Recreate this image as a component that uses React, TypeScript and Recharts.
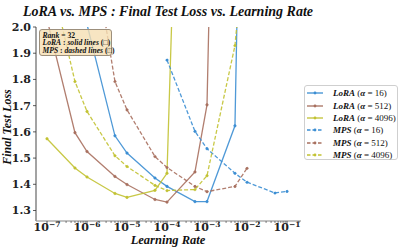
import React from "react";
import { LineChart, Line, XAxis, YAxis, Legend, Label } from "recharts";

const learningRates = [1e-7, 5e-7, 1e-6, 5e-6, 1e-5, 5e-5, 1e-4, 5e-4, 1e-3, 5e-3, 1e-2, 5e-2, 1e-1];

// solid lines (LoRA)
const loraA16 = [null, null, 2.01, 1.585, 1.519, 1.424, 1.392, 1.334, 1.334, 1.623, 4.05, null, null];
const loraA512 = [2.03, 1.597, 1.525, 1.43, 1.399, 1.342, 1.332, 1.447, 1.703, 6.5, null, null, null];
const loraA4096 = [1.574, 1.462, 1.428, 1.365, 1.35, 1.377, 1.442, 4.9, null, null, null, null, null];

// dashed lines (MPS)
const mpsA16 = [null, null, null, null, null, null, 1.874, 1.602, 1.536, 1.442, 1.408, 1.367, 1.373];
const mpsA512 = [null, null, 2.44, 1.792, 1.684, 1.506, 1.464, 1.392, 1.372, 1.392, 1.461, null, null];
const mpsA4096 = [2.25, 1.792, 1.678, 1.509, 1.468, 1.396, 1.376, 1.38, 1.433, 1.929, 2.43, null, null];

const yTicks = [1.3, 1.4, 1.5, 1.6, 1.7, 1.8, 1.9, 2.0];
const xMajorTicks = [1e-7, 1e-6, 1e-5, 1e-4, 1e-3, 1e-2, 1e-1];

const BLUE = "#3c8ed3";
const BROWN = "#a8705f";
const OLIVE = "#c2c232";

const SERIES = [
  { key: "loraA16", name: "LoRA", alpha: "16", color: BLUE, dashed: false },
  { key: "loraA512", name: "LoRA", alpha: "512", color: BROWN, dashed: false },
  { key: "loraA4096", name: "LoRA", alpha: "4096", color: OLIVE, dashed: false },
  { key: "mpsA16", name: "MPS", alpha: "16", color: BLUE, dashed: true },
  { key: "mpsA512", name: "MPS", alpha: "512", color: BROWN, dashed: true },
  { key: "mpsA4096", name: "MPS", alpha: "4096", color: OLIVE, dashed: true },
];

const data = learningRates.map((lr, i) => ({
  lr,
  loraA16: loraA16[i],
  loraA512: loraA512[i],
  loraA4096: loraA4096[i],
  mpsA16: mpsA16[i],
  mpsA512: mpsA512[i],
  mpsA4096: mpsA4096[i],
}));

// major + minor log ticks
const xTicks: number[] = [];
xMajorTicks.forEach((m) => {
  for (let k = 1; k <= 9; k++) {
    const v = m * k;
    if (v <= 0.2) xTicks.push(v);
  }
});

const SERIF = "'Liberation Serif', 'Times New Roman', serif";
const TICK_FONT = "'DejaVu Serif', serif";

function XTick({ x, y, payload }: any) {
  const v = payload.value;
  const lg = Math.log10(v);
  const e = Math.round(lg);
  const major = Math.abs(lg - e) < 1e-6;
  return (
    <g>
      <line x1={x} x2={x} y1={y} y2={y + (major ? 3.5 : 2)} stroke="#333" strokeWidth={major ? 0.8 : 0.6} />
      {major && (
        <text x={x} y={y + 10} textAnchor="middle" fontFamily={TICK_FONT} fontWeight="bold" fontSize={11} fill="#222">
          10
          <tspan dy={-4} fontSize={7.5}>{"\u2212" + -e}</tspan>
        </text>
      )}
    </g>
  );
}

function LegendBox() {
  return (
    <div
      style={{
        width: 94,
        height: 75,
        boxSizing: "border-box",
        border: "1px solid #cfcfcf",
        borderRadius: 3,
        background: "rgba(255,255,255,0.85)",
        paddingTop: 1,
      }}
    >
      {SERIES.map((s) => (
        <div key={s.key} style={{ display: "flex", alignItems: "center", height: 12.4 }}>
          <svg width={28} height={12} style={{ flex: "none" }}>
            <line
              x1={2}
              x2={18}
              y1={6}
              y2={6}
              stroke={s.color}
              strokeWidth={1.3}
              strokeDasharray={s.dashed ? "3.5 2" : undefined}
            />
            <circle cx={10} cy={6} r={1.4} fill={s.color} />
          </svg>
          <span style={{ fontFamily: SERIF, fontSize: 9, color: "#111", whiteSpace: "nowrap" }}>
            <b><i>{s.name}</i></b> (<b><i>α</i></b>{" = "}{s.alpha})
          </span>
        </div>
      ))}
    </div>
  );
}

export default function App() {
  return (
    <div style={{ position: "relative", width: 399, height: 250, background: "#fff" }}>
      <style>{"body{margin:0}"}</style>
      <LineChart width={399} height={250} data={data} margin={{ top: 27, right: 98, bottom: 0, left: 0 }}>
        <XAxis
          dataKey="lr"
          type="number"
          scale="log"
          domain={[Math.pow(10, -7.275), Math.pow(10, -0.65)]}
          allowDataOverflow
          ticks={xTicks}
          interval={0}
          tick={<XTick />}
          tickSize={0}
          tickMargin={0}
          tickLine={false}
          height={29}
          axisLine={{ stroke: "#888", strokeWidth: 1.2 }}
        >
          <Label
            content={() => (
              <text x={168} y={244} textAnchor="middle" fontFamily={SERIF} fontStyle="italic" fontWeight="bold" fontSize={12.5} fill="#111">
                Learning Rate
              </text>
            )}
          />
        </XAxis>
        <YAxis
          type="number"
          domain={[1.26, 2.0]}
          allowDataOverflow
          ticks={yTicks}
          tickFormatter={(v: number) => v.toFixed(1)}
          tick={{ fontFamily: TICK_FONT, fontWeight: "bold", fontSize: 11, fill: "#222" }}
          tickSize={3}
          tickMargin={2}
          tickLine={{ stroke: "#333", strokeWidth: 0.8 }}
          width={36}
          axisLine={{ stroke: "#999", strokeWidth: 1.8 }}
        >
          <Label
            content={() => (
              <text
                x={11}
                y={127}
                transform="rotate(-90 11 127)"
                textAnchor="middle"
                fontFamily={SERIF}
                fontStyle="italic"
                fontWeight="bold"
                fontSize={12}
                fill="#111"
              >
                Final Test Loss
              </text>
            )}
          />
        </YAxis>
        <Legend
          layout="vertical"
          align="center"
          verticalAlign="middle"
          content={() => <LegendBox />}
          wrapperStyle={{ position: "absolute", left: 304, top: 85, width: 94, height: 75 }}
        />
        {SERIES.map((s) => (
          <Line
            key={s.key}
            dataKey={s.key}
            type="linear"
            stroke={s.color}
            strokeWidth={1.3}
            strokeOpacity={0.9}
            strokeDasharray={s.dashed ? "4 2" : undefined}
            dot={{ r: 1.3, fill: s.color, stroke: s.color, strokeWidth: 0.5 }}
            activeDot={false}
            connectNulls={false}
            isAnimationActive={false}
          />
        ))}
      </LineChart>
      <div
        style={{
          position: "absolute",
          left: 0,
          width: 336,
          top: 3,
          textAlign: "center",
          fontFamily: SERIF,
          fontStyle: "italic",
          fontWeight: "bold",
          fontSize: 14,
          lineHeight: "18px",
          color: "#111",
          whiteSpace: "nowrap",
        }}
      >
        LoRA vs. MPS : Final Test Loss vs. Learning Rate
      </div>
      <div
        style={{
          position: "absolute",
          left: 39,
          top: 29,
          width: 73,
          height: 27,
          boxSizing: "border-box",
          border: "1px solid #9c8f7c",
          borderRadius: 3,
          background: "rgba(245,222,179,0.8)",
          fontFamily: SERIF,
          fontWeight: "bold",
          fontSize: 7.6,
          lineHeight: "7.7px",
          color: "#111",
          padding: "1.5px 0 0 2.5px",
          whiteSpace: "nowrap",
        }}
      >
        <div><i>Rank</i> = 32</div>
        <div><i>LoRA</i> : <i>solid lines</i> (□)</div>
        <div><i>MPS</i> : <i>dashed lines</i> (□)</div>
      </div>
    </div>
  );
}
